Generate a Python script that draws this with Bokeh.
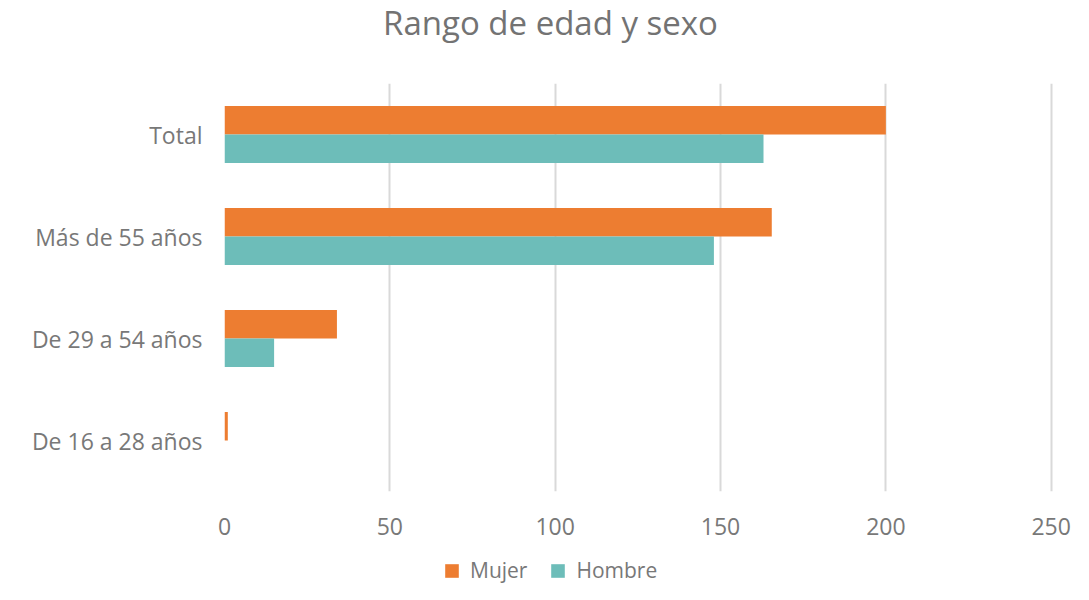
from bokeh.plotting import figure
from bokeh.models import ColumnDataSource, Legend, LegendItem, FixedTicker, Range1d, Label
from bokeh.layouts import column
from bokeh.transform import dodge
from bokeh.embed import file_html
from bokeh.resources import INLINE

categories = ["De 16 a 28 años", "De 29 a 54 años", "Más de 55 años", "Total"]
mujer = [1, 34, 165.5, 200]
hombre = [0, 15, 148, 163]
x_ticks = [0, 50, 100, 150, 200, 250]
series_names = ["Mujer", "Hombre"]
title_text = "Rango de edad y sexo"

ORANGE = "#ED7D31"
TEAL = "#6DBDB9"
TITLE_GREY = "#737373"
GREY = "#787878"
FONT = "Open Sans"
W = 1073

# title strip
tf = figure(width=W, height=44, x_range=Range1d(0, 1), y_range=Range1d(0, 1),
            output_backend="svg", toolbar_location=None, min_border=0,
            x_axis_type=None, y_axis_type=None)
tf.grid.visible = False
tf.outline_line_color = None
tf.add_layout(Label(x=326, y=22, x_units="screen", y_units="screen", text=title_text,
                    text_align="center", text_baseline="middle", text_font=FONT,
                    text_font_size="33px", text_color=TITLE_GREY))

# main chart
src = ColumnDataSource(dict(cat=categories, mujer=mujer, hombre=hombre))

p = figure(width=W, height=506, y_range=categories, x_range=Range1d(0, 251),
           output_backend="svg", toolbar_location=None,
           min_border_left=224, min_border_right=19, min_border_top=39, min_border_bottom=59)

p.hbar(y=dodge("cat", 0.14, range=p.y_range), right="mujer", left=0, height=0.28,
       source=src, color=ORANGE, line_color=None)
p.hbar(y=dodge("cat", -0.14, range=p.y_range), right="hombre", left=0, height=0.28,
       source=src, color=TEAL, line_color=None)

p.xaxis.ticker = FixedTicker(ticks=x_ticks)
p.xaxis.axis_line_color = None
p.xaxis.major_tick_line_color = None
p.xaxis.minor_tick_line_color = None
p.xaxis.major_label_text_font = FONT
p.xaxis.major_label_text_font_size = "23px"
p.xaxis.major_label_text_color = GREY
p.xaxis.major_label_standoff = 20

p.yaxis.axis_line_color = None
p.yaxis.major_tick_line_color = None
p.yaxis.minor_tick_line_color = None
p.yaxis.major_label_text_font = FONT
p.yaxis.major_label_text_font_size = "23px"
p.yaxis.major_label_text_color = GREY
p.yaxis.major_label_standoff = 16

p.ygrid.grid_line_color = None
p.xgrid.grid_line_color = "#D9D9D9"
p.xgrid.grid_line_width = 2
p.outline_line_color = None

# legend strip below the chart (proxy glyphs lie outside the visible range)
lf = figure(width=W, height=34, x_range=Range1d(0, 1), y_range=Range1d(0, 1),
            output_backend="svg", toolbar_location=None, min_border=0,
            x_axis_type=None, y_axis_type=None)
lf.grid.visible = False
lf.outline_line_color = None
lr1 = lf.hbar(y=[-5], right=[-5], left=-6, height=0.1, color=ORANGE, line_color=None)
lr2 = lf.hbar(y=[-5], right=[-5], left=-6, height=0.1, color=TEAL, line_color=None)

legend = Legend(items=[LegendItem(label=series_names[0], renderers=[lr1]),
                       LegendItem(label=series_names[1], renderers=[lr2])],
                orientation="horizontal", location=(219, 0))
legend.label_text_font = FONT
legend.label_text_font_size = "21px"
legend.label_text_color = GREY
legend.glyph_width = 17
legend.glyph_height = 17
legend.spacing = 22
legend.label_standoff = 10
legend.padding = 0
legend.margin = 0
legend.border_line_color = None
legend.background_fill_alpha = 0
lf.add_layout(legend, "center")

layout = column(tf, p, lf, spacing=0)
open("out.html", "w").write(file_html(layout, INLINE))
